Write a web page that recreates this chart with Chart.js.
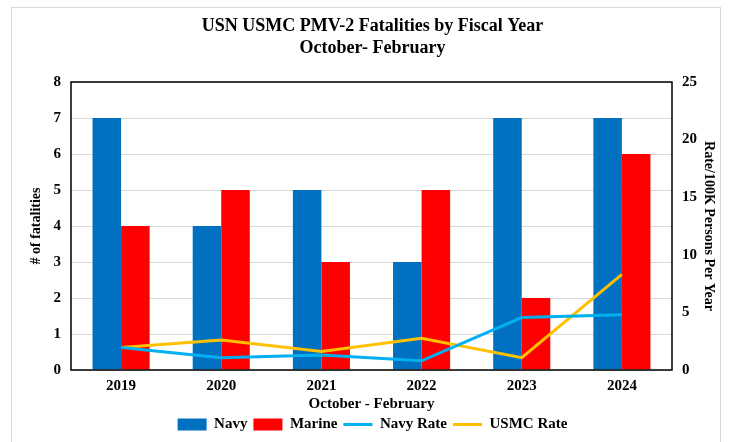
<!DOCTYPE html>
<html>
<head>
<meta charset="utf-8">
<script src="https://cdn.jsdelivr.net/npm/chart.js@4"></script>
<style>
  body { margin: 0; background: #fff; }
  #wrap { width: 730px; height: 442px; position: relative; }
</style>
</head>
<body>
<div id="wrap"><canvas id="chart" width="730" height="442"></canvas></div>
<script>
// données
const years = ["2019", "2020", "2021", "2022", "2023", "2024"];
const navy = [7, 4, 5, 3, 7, 7];
const marine = [4, 5, 3, 5, 2, 6];
const navyRate = [1.95, 1.07, 1.3, 0.8, 4.55, 4.8];
const usmcRate = [1.95, 2.6, 1.6, 2.75, 1.07, 8.3];

const serif = "'Liberation Serif', 'Times New Roman', serif";

// cadre gris + bordure noire de la zone de tracé
const framePlugin = {
    id: 'frame',
    beforeDraw(chart) {
        const ctx = chart.ctx;
        ctx.save();
        ctx.fillStyle = '#fff';
        ctx.fillRect(0, 0, chart.width, chart.height);
        ctx.strokeStyle = '#d9d9d9';
        ctx.lineWidth = 1;
        ctx.strokeRect(11.5, 7.5, 709, 460);
        ctx.restore();
    },
    afterDatasetsDraw(chart) {
        const a = chart.chartArea;
        const ctx = chart.ctx;
        ctx.save();
        ctx.strokeStyle = '#000';
        ctx.lineWidth = 1.5;
        ctx.strokeRect(a.left, a.top, a.right - a.left, a.bottom - a.top);
        ctx.restore();
    }
};

const ctx = document.getElementById('chart').getContext('2d');
new Chart(ctx, {
    data: {
        labels: years,
        datasets: [
            { type: 'bar', label: 'Navy', data: navy, backgroundColor: '#0070C0', yAxisID: 'y', order: 2, pointStyle: 'rect' },
            { type: 'bar', label: 'Marine', data: marine, backgroundColor: '#FF0000', yAxisID: 'y', order: 2, pointStyle: 'rect' },
            { type: 'line', label: 'Navy Rate', data: navyRate, borderColor: '#00B0F0', backgroundColor: '#00B0F0', borderWidth: 3, pointRadius: 0, yAxisID: 'y1', order: 1, pointStyle: 'line' },
            { type: 'line', label: 'USMC Rate', data: usmcRate, borderColor: '#FFC000', backgroundColor: '#FFC000', borderWidth: 3, pointRadius: 0, yAxisID: 'y1', order: 1, pointStyle: 'line' },
        ],
    },
    options: {
        responsive: false,
        animation: false,
        layout: { padding: { left: 24, right: 9, top: 8, bottom: 0 } },
        datasets: { bar: { categoryPercentage: 0.57, barPercentage: 1.0 } },
        plugins: {
            title: {
                display: true,
                text: ['USN USMC PMV-2 Fatalities by Fiscal Year', 'October- February'],
                color: '#000',
                font: { family: serif, size: 18, weight: 'bold', lineHeight: 1.25 },
                padding: { top: 7, bottom: 22 },
            },
            legend: {
                position: 'bottom',
                labels: {
                    color: '#000',
                    font: { family: serif, size: 15, weight: 'bold' },
                    usePointStyle: true,
                    pointStyleWidth: 29,
                    boxHeight: 12,
                    padding: 6,
                    sort: (a, b) => a.datasetIndex - b.datasetIndex,
                },
            },
            tooltip: { enabled: false },
        },
        scales: {
            x: {
                grid: { display: false, drawTicks: false },
                border: { display: false },
                ticks: { color: '#000', font: { family: serif, size: 15, weight: 'bold' }, padding: 7 },
                title: { display: true, text: 'October - February', color: '#000', font: { family: serif, size: 15, weight: 'bold', lineHeight: 1.0 }, padding: { top: 0, bottom: -1 } },
                afterFit(scale) { scale.height = 41; },
            },
            y: {
                position: 'left',
                min: 0, max: 8,
                ticks: { stepSize: 1, color: '#000', font: { family: serif, size: 15, weight: 'bold' }, padding: 10 },
                grid: { color: '#d9d9d9', drawTicks: false },
                border: { display: false },
                title: { display: true, text: '# of fatalities', color: '#000', font: { family: serif, size: 14, weight: 'bold' } },
                afterFit(scale) { scale.width = 47; },
            },
            y1: {
                position: 'right',
                min: 0, max: 25,
                ticks: { stepSize: 5, color: '#000', font: { family: serif, size: 15, weight: 'bold' }, padding: 10 },
                grid: { display: false, drawTicks: false },
                border: { display: false },
                title: { display: true, text: 'Rate/100K Persons Per Year', color: '#000', font: { family: serif, size: 14, weight: 'bold' } },
                afterFit(scale) { scale.width = 49; },
            },
        },
    },
    plugins: [framePlugin],
});
</script>
</body>
</html>
